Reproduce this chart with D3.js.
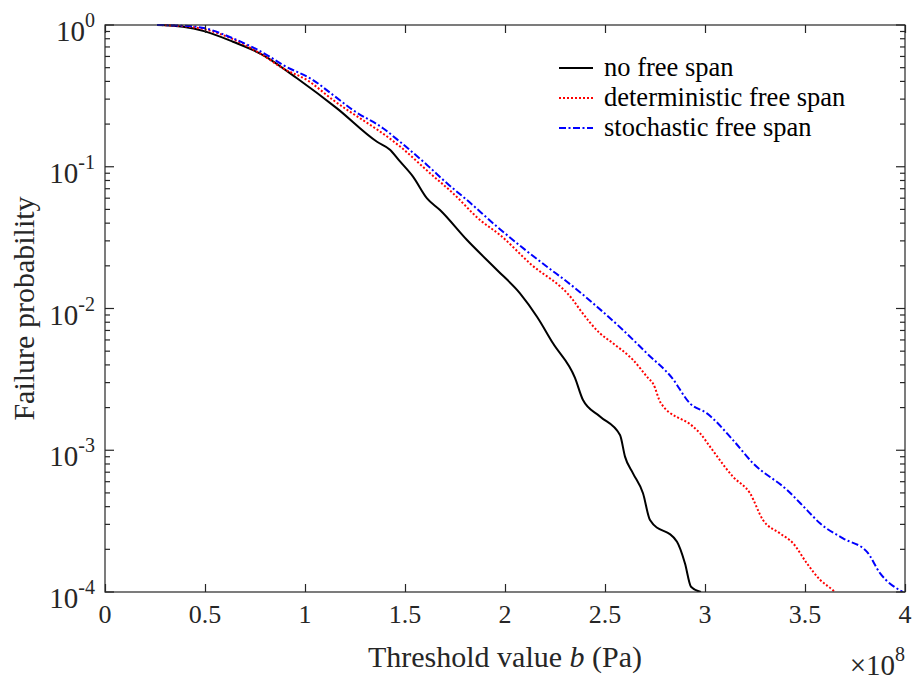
<!DOCTYPE html>
<html>
<head>
<meta charset="utf-8">
<script src="https://cdn.jsdelivr.net/npm/d3@7"></script>
<style>
  body { margin: 0; background: #fff; }
</style>
</head>
<body>
<svg id="chart" width="914" height="680"></svg>
<script>
// ----- data (threshold in 1e8 Pa, failure probability) -----
const noSpanB = [0.26, 0.39, 0.50, 0.64, 0.79, 0.96, 1.16, 1.36, 1.425, 1.475, 1.54, 1.61, 1.675, 1.81, 1.96, 2.075, 2.16, 2.24, 2.35, 2.39, 2.475, 2.575, 2.60, 2.64, 2.69, 2.725, 2.86, 2.90, 2.93, 2.98];
const noSpanP = [1, 0.973, 0.902, 0.762, 0.614, 0.421, 0.258, 0.150, 0.132, 0.109, 0.0851, 0.0598, 0.0495, 0.0304, 0.0187, 0.0128, 0.00875, 0.00568, 0.00324, 0.00226, 0.00173, 0.00128, 0.000902, 0.000687, 0.000497, 0.000322, 0.000226, 0.000159, 0.000109, 0.0001];

const detSpanB = [0.26, 0.39, 0.50, 0.64, 0.775, 0.89, 1.01, 1.14, 1.44, 1.475, 1.625, 1.74, 1.875, 1.975, 2.125, 2.34, 2.375, 2.475, 2.54, 2.64, 2.715, 2.74, 2.78, 2.94, 2.975, 3.025, 3.14, 3.225, 3.29, 3.375, 3.44, 3.51, 3.575, 3.64, 3.65];
const detSpanP = [1, 0.982, 0.931, 0.794, 0.631, 0.494, 0.409, 0.296, 0.152, 0.139, 0.090, 0.065, 0.0421, 0.033, 0.0208, 0.01148, 0.0098, 0.00668, 0.00568, 0.00434, 0.00324, 0.00296, 0.00214, 0.00147, 0.00132, 0.00106, 0.00065, 0.000497, 0.000322, 0.000259, 0.000221, 0.000159, 0.000122, 0.000103, 0.0001];

const stoSpanB = [0.26, 0.39, 0.50, 0.64, 0.81, 0.89, 1.04, 1.14, 1.24, 1.39, 1.475, 1.61, 1.71, 1.81, 1.96, 2.21, 2.31, 2.46, 2.59, 2.71, 2.835, 2.925, 3.01, 3.14, 3.24, 3.41, 3.51, 3.575, 3.69, 3.81, 3.875, 3.99];
const stoSpanP = [1, 0.989, 0.948, 0.805, 0.614, 0.522, 0.409, 0.321, 0.251, 0.187, 0.150, 0.103, 0.0764, 0.0582, 0.0378, 0.0197, 0.01545, 0.0103, 0.00705, 0.00482, 0.00324, 0.00214, 0.00182, 0.00118, 0.00081, 0.000525, 0.000378, 0.000305, 0.000239, 0.000192, 0.000136, 0.0001];

const seriesNames = ["no free span", "deterministic free span", "stochastic free span"];
const xTicks = [0, 0.5, 1, 1.5, 2, 2.5, 3, 3.5, 4];
const xTickLabels = ["0", "0.5", "1", "1.5", "2", "2.5", "3", "3.5", "4"];
const yExponents = [0, -1, -2, -3, -4];

// ----- layout -----
const svg = d3.select("#chart")
  .attr("font-family", "'Liberation Serif', 'Times New Roman', 'DejaVu Serif', serif");
const plotLeft = 105, plotRight = 905, plotTop = 25, plotBottom = 592;
const textColor = "#262626";

const x = d3.scaleLinear().domain([0, 4]).range([plotLeft, plotRight]);
const y = d3.scaleLog().domain([1e-4, 1]).range([plotBottom, plotTop]);

const styles = [
  { color: "#000000", dash: null },
  { color: "#ff0000", dash: "2,2" },
  { color: "#0000ff", dash: "7,2.5,2,2.5" }
];

// ----- curves -----
const line = d3.line().curve(d3.curveMonotoneX).x(d => x(d[0])).y(d => y(d[1]));
const series = [
  d3.zip(noSpanB, noSpanP),
  d3.zip(detSpanB, detSpanP),
  d3.zip(stoSpanB, stoSpanP)
];

svg.append("defs").append("clipPath").attr("id", "clip")
  .append("rect").attr("x", plotLeft).attr("y", plotTop - 2)
  .attr("width", plotRight - plotLeft).attr("height", plotBottom - plotTop + 2);

series.forEach((s, i) => {
  svg.append("path")
    .datum(s)
    .attr("clip-path", "url(#clip)")
    .attr("d", line)
    .attr("fill", "none")
    .attr("stroke", styles[i].color)
    .attr("stroke-width", 2)
    .attr("stroke-dasharray", styles[i].dash);
});

// ----- axes box + ticks (inward, MATLAB style) -----
const axisColor = "#262626";
svg.append("rect")
  .attr("x", plotLeft).attr("y", plotTop)
  .attr("width", plotRight - plotLeft).attr("height", plotBottom - plotTop)
  .attr("fill", "none").attr("stroke", axisColor).attr("stroke-width", 1.2);

const xAxisBottom = d3.axisBottom(x).tickValues(xTicks).tickSize(-8).tickFormat("");
const xAxisTop = d3.axisTop(x).tickValues(xTicks).tickSize(-8).tickFormat("");
[svg.append("g").attr("transform", `translate(0,${plotBottom})`).call(xAxisBottom),
 svg.append("g").attr("transform", `translate(0,${plotTop})`).call(xAxisTop)]
  .forEach(g => {
    g.select(".domain").remove();
    g.selectAll("line").attr("stroke", axisColor).attr("stroke-width", 1.2);
  });

const majorY = yExponents.map(e => Math.pow(10, e));
const minorY = [];
for (let e = -4; e < 0; e++) for (let m = 2; m <= 9; m++) minorY.push(m * Math.pow(10, e));

function yTicks(g, side) {
  const dir = side === "left" ? 1 : -1;
  const x0 = side === "left" ? plotLeft : plotRight;
  g.selectAll("line.major").data(majorY).join("line").attr("class", "major")
    .attr("x1", x0).attr("x2", x0 + dir * 9)
    .attr("y1", d => y(d)).attr("y2", d => y(d));
  g.selectAll("line.minor").data(minorY).join("line").attr("class", "minor")
    .attr("x1", x0).attr("x2", x0 + dir * 5)
    .attr("y1", d => y(d)).attr("y2", d => y(d));
  g.selectAll("line").attr("stroke", axisColor).attr("stroke-width", 1.2);
}
yTicks(svg.append("g"), "left");
yTicks(svg.append("g"), "right");

// x tick labels
svg.append("g").selectAll("text").data(xTicks).join("text")
  .attr("x", d => x(d)).attr("y", plotBottom + 31)
  .attr("text-anchor", "middle")
  .attr("fill", textColor)
  .attr("font-size", 26)
  .text((d, i) => xTickLabels[i]);

// y tick labels 10^e
const yl = svg.append("g").selectAll("text").data(yExponents).join("text")
  .attr("x", plotLeft - 10).attr("y", d => y(Math.pow(10, d)) + 16)
  .attr("text-anchor", "end")
  .attr("fill", textColor)
  .attr("font-size", 29);
yl.append("tspan").text("10");
yl.append("tspan").attr("dy", -14).attr("font-size", 20).text(d => d);

// x10^8 multiplier
const mult = svg.append("text")
  .attr("x", plotRight).attr("y", 675)
  .attr("text-anchor", "end")
  .attr("fill", textColor)
  .attr("font-size", 29);
mult.append("tspan").text("\u00d710");
mult.append("tspan").attr("dy", -14).attr("font-size", 20).text("8");

// axis titles
const xl = svg.append("text")
  .attr("x", (plotLeft + plotRight) / 2).attr("y", 667)
  .attr("text-anchor", "middle")
  .attr("fill", textColor)
  .attr("font-size", 30);
xl.append("tspan").text("Threshold value ");
xl.append("tspan").attr("font-style", "italic").text("b");
xl.append("tspan").text(" (Pa)");

svg.append("text")
  .attr("transform", `translate(34,${(plotTop + plotBottom) / 2}) rotate(-90)`)
  .attr("text-anchor", "middle")
  .attr("fill", textColor)
  .attr("font-size", 30)
  .text("Failure probability");

// ----- legend -----
const legend = svg.append("g");
seriesNames.forEach((name, i) => {
  const ly = 68 + i * 30;
  legend.append("line")
    .attr("x1", 559).attr("x2", 593).attr("y1", ly).attr("y2", ly)
    .attr("stroke", styles[i].color).attr("stroke-width", 2)
    .attr("stroke-dasharray", styles[i].dash);
  legend.append("text")
    .attr("x", 604).attr("y", ly + 8)
    .attr("font-size", 26.5)
    .attr("fill", "#000")
    .text(name);
});
</script>
</body>
</html>
